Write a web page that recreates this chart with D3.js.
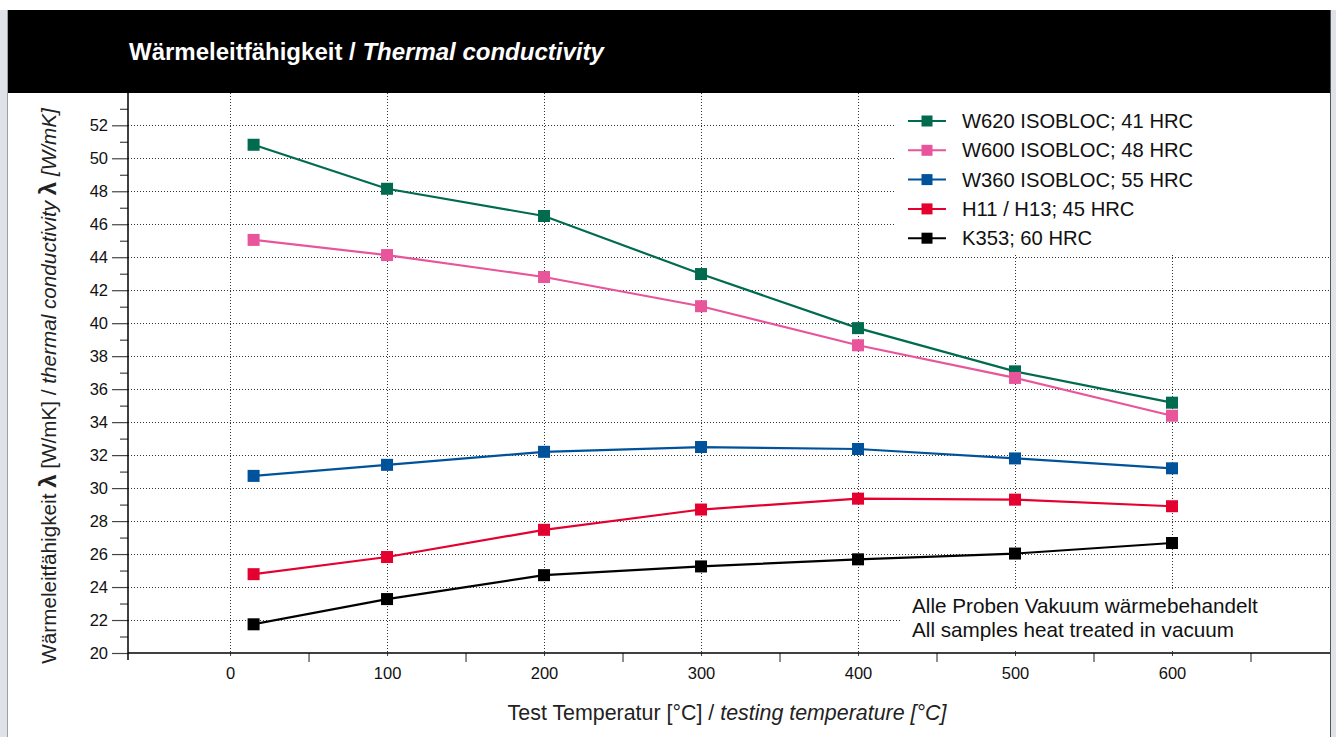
<!DOCTYPE html>
<html>
<head>
<meta charset="utf-8">
<script src="https://cdnjs.cloudflare.com/ajax/libs/d3/7.8.5/d3.min.js"></script>
<style>
  html, body { margin: 0; padding: 0; background: #fff; }
  svg { display: block; font-family: "Liberation Sans", Arial, sans-serif; }
</style>
</head>
<body>
<svg id="chart" width="1336" height="737"></svg>
<script>
var temps = [15, 100, 200, 300, 400, 500, 600];

var w620 = [50.82, 48.15, 46.5, 42.98, 39.7, 37.08, 35.18],
    w600 = [45.05, 44.13, 42.8, 41.03, 38.66, 36.68, 34.39],
    w360 = [30.74, 31.41, 32.2, 32.49, 32.37, 31.8, 31.2],
    h11 = [24.78, 25.82, 27.47, 28.7, 29.36, 29.3, 28.9],
    k353 = [21.74, 23.27, 24.72, 25.25, 25.68, 26.03, 26.67];

var seriesNames = ['W620 ISOBLOC; 41 HRC', 'W600 ISOBLOC; 48 HRC', 'W360 ISOBLOC; 55 HRC',
                   'H11 / H13; 45 HRC', 'K353; 60 HRC'];
var seriesColors = ['#006b4f', '#e8559b', '#00529b', '#e4002f', '#000000'];
var seriesValues = [w620, w600, w360, h11, k353];

var xTicks = [0, 100, 200, 300, 400, 500, 600],
    xMinorTicks = [50, 150, 250, 350, 450, 550, 650],
    yTicks = d3.range(20, 53, 2),
    yMinorTicks = d3.range(21, 54, 2);

var noteLines = ['Alle Proben Vakuum wärmebehandelt', 'All samples heat treated in vacuum'];

var svg = d3.select('#chart');

var pLeft = 128, pRight = 1330, pTop = 93, pBottom = 653;

var x = d3.scaleLinear().domain([-65, 700]).range([pLeft, 1329]),
    y = d3.scaleLinear().domain([20, 52]).range([pBottom, 125.3]);

// page frame
svg.append('rect').attr('x', 0).attr('y', 10).attr('width', 7).attr('height', 727).attr('fill', '#dfe3e7');
svg.append('rect').attr('x', 1331).attr('y', 10).attr('width', 5).attr('height', 727).attr('fill', '#dfe3e7');
svg.append('line').attr('x1', 7.5).attr('x2', 7.5).attr('y1', 10).attr('y2', 737).attr('stroke', '#9aa0a6');
svg.append('line').attr('x1', 1330.5).attr('x2', 1330.5).attr('y1', 10).attr('y2', 737).attr('stroke', '#555');

// header
svg.append('rect').attr('x', 8).attr('y', 10).attr('width', 1322).attr('height', pTop - 10).attr('fill', '#000');
var title = svg.append('text').attr('x', 129).attr('y', 60)
    .attr('fill', '#fff').style('font-size', '24px').style('font-weight', 'bold');
title.append('tspan').text('Wärmeleitfähigkeit / ');
title.append('tspan').style('font-style', 'italic').text('Thermal conductivity');

// grid
var grid = svg.append('g').attr('stroke', '#333').attr('stroke-width', 1).attr('stroke-dasharray', '1,2');
grid.selectAll('line.h').data(yTicks.slice(1)).enter().append('line')
    .attr('x1', pLeft).attr('x2', pRight)
    .attr('y1', function(d){ return Math.round(y(d)) + 0.5; })
    .attr('y2', function(d){ return Math.round(y(d)) + 0.5; });
grid.selectAll('line.v').data(xTicks).enter().append('line')
    .attr('y1', pTop).attr('y2', pBottom)
    .attr('x1', function(d){ return Math.round(x(d)) + 0.5; })
    .attr('x2', function(d){ return Math.round(x(d)) + 0.5; });

// white boxes behind legend and note
svg.append('rect').attr('x', 895).attr('y', pTop).attr('width', pRight - 895).attr('height', 161).attr('fill', '#fff');
svg.append('rect').attr('x', 900).attr('y', 590).attr('width', pRight - 900).attr('height', 61).attr('fill', '#fff');

// axes
var yAxis = d3.axisLeft(y).tickValues(yTicks).tickSize(16).tickPadding(4);
var gy = svg.append('g').attr('transform', 'translate(' + pLeft + ',0)').call(yAxis);
gy.select('.domain').remove();
gy.selectAll('line').attr('stroke', '#444').attr('stroke-width', 1.2);
gy.selectAll('text').style('font-size', '16.5px').attr('fill', '#111');
svg.append('g').attr('transform', 'translate(' + pLeft + ',0)')
    .call(d3.axisLeft(y).tickValues(yMinorTicks).tickSize(8).tickFormat(''))
    .call(function(g){ g.select('.domain').remove(); g.selectAll('line').attr('stroke', '#444').attr('stroke-width', 1.2); });
svg.append('line').attr('x1', pLeft).attr('x2', pLeft).attr('y1', pTop).attr('y2', 660)
    .attr('stroke', '#000').attr('stroke-width', 1.5);

var gx = svg.append('g').attr('transform', 'translate(0,' + pBottom + ')')
    .call(d3.axisBottom(x).tickValues(xTicks).tickSize(3).tickPadding(11));
gx.select('.domain').remove();
gx.selectAll('line').attr('stroke', '#444');
gx.selectAll('text').style('font-size', '16.5px').attr('fill', '#111');
svg.append('g').attr('transform', 'translate(0,' + pBottom + ')')
    .call(d3.axisBottom(x).tickValues(xMinorTicks).tickSize(9).tickFormat(''))
    .call(function(g){ g.select('.domain').remove(); g.selectAll('line').attr('stroke', '#444').attr('stroke-width', 1.2); });
svg.append('line').attr('x1', pLeft).attr('x2', pRight).attr('y1', pBottom).attr('y2', pBottom)
    .attr('stroke', '#000').attr('stroke-width', 1.5);

// axis titles
var xt = svg.append('text').attr('x', 727).attr('y', 720).attr('text-anchor', 'middle')
    .attr('fill', '#222').style('font-size', '21.4px');
xt.append('tspan').text('Test Temperatur [°C] / ');
xt.append('tspan').style('font-style', 'italic').text('testing temperature [°C]');

var yt = svg.append('text').attr('transform', 'translate(56,386) rotate(-90)').attr('text-anchor', 'middle')
    .attr('fill', '#222').style('font-size', '20.7px');
yt.append('tspan').text('Wärmeleitfähigkeit ');
yt.append('tspan').style('font-weight', 'bold').style('font-size', '24px').text('λ');
yt.append('tspan').text(' [W/mK] / ');
yt.append('tspan').style('font-style', 'italic').text('thermal conductivity ');
yt.append('tspan').style('font-weight', 'bold').style('font-size', '24px').text('λ');
yt.append('tspan').style('font-style', 'italic').text(' [W/mK]');

// series
var line = d3.line().x(function(d){ return x(d[0]); }).y(function(d){ return y(d[1]); });
var series = svg.selectAll('g.series').data(seriesValues).enter().append('g').attr('class', 'series');
series.append('path')
    .attr('d', function(v){ return line(d3.zip(temps, v)); })
    .attr('fill', 'none')
    .attr('stroke', function(v, i){ return seriesColors[i]; })
    .attr('stroke-width', 2.2);
series.each(function(v, i){
    d3.select(this).selectAll('rect').data(d3.zip(temps, v)).enter().append('rect')
        .attr('x', function(d){ return x(d[0]) - 6; })
        .attr('y', function(d){ return y(d[1]) - 6; })
        .attr('width', 12).attr('height', 12)
        .attr('fill', seriesColors[i]);
});

// legend
var legend = svg.append('g').attr('transform', 'translate(908,121)');
var rows = legend.selectAll('g').data(seriesNames).enter().append('g')
    .attr('transform', function(d, i){ return 'translate(0,' + (i * 29.3) + ')'; });
rows.append('line').attr('x1', 0).attr('x2', 38).attr('y1', 0).attr('y2', 0)
    .attr('stroke', function(d, i){ return seriesColors[i]; }).attr('stroke-width', 2);
rows.append('rect').attr('x', 13.5).attr('y', -5.5).attr('width', 11).attr('height', 11)
    .attr('fill', function(d, i){ return seriesColors[i]; });
rows.append('text').attr('x', 54).attr('y', 7).attr('fill', '#111').style('font-size', '20.2px')
    .text(function(d){ return d; });

// note
svg.append('g').selectAll('text').data(noteLines).enter().append('text')
    .attr('x', 912).attr('y', function(d, i){ return 613 + i * 24; })
    .attr('fill', '#111').style('font-size', '20.7px')
    .text(function(d){ return d; });
</script>
</body>
</html>
